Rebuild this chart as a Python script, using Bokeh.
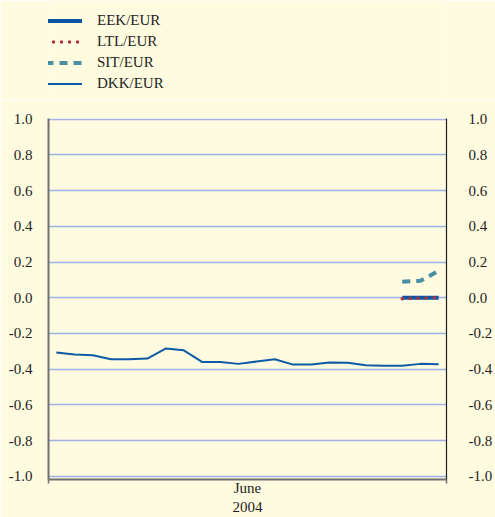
from bokeh.plotting import figure
from bokeh.layouts import column
from bokeh.models import Legend, LegendItem, LinearAxis, FixedTicker, Range1d
from bokeh.embed import file_html
from bokeh.resources import INLINE

# ---- data ----
days = [1, 2, 3, 4, 7, 8, 9, 10, 11, 14, 15, 16, 17, 18, 21, 22, 23, 24, 25, 28, 29, 30]
dkk = [-0.306, -0.318, -0.322, -0.344, -0.344, -0.340, -0.284, -0.294, -0.359, -0.359,
       -0.370, -0.357, -0.344, -0.374, -0.374, -0.362, -0.364, -0.378, -0.381, -0.381,
       -0.370, -0.372]
erm_days = [28, 29, 30]
eek = [0.0, 0.0, 0.0]
ltl = [-0.005, -0.002, 0.0]
sit = [0.09, 0.095, 0.15]
y_ticks = [-1.0, -0.8, -0.6, -0.4, -0.2, 0.0, 0.2, 0.4, 0.6, 0.8, 1.0]
y_labels = ["-1.0", "-0.8", "-0.6", "-0.4", "-0.2", "0.0", "0.2", "0.4", "0.6", "0.8", "1.0"]
x_label = "June\n2004"
series_names = ["EEK/EUR", "LTL/EUR", "SIT/EUR", "DKK/EUR"]

# ---- styling ----
BG = "#fefbe0"
FONT = "Liberation Serif"
TXT = "#231f20"
STYLES = {
    "EEK/EUR": dict(line_color="#0b55a3", line_width=4),
    "LTL/EUR": dict(line_color="#b5343a", line_width=3.5, line_dash="0 8", line_cap="round"),
    "SIT/EUR": dict(line_color="#4a8ea3", line_width=4, line_dash="8 6"),
    "DKK/EUR": dict(line_color="#0d5aa7", line_width=2),
}

x_all = [days.index(d) for d in days]
x_erm = [days.index(d) for d in erm_days]
x0, x1 = -0.43, len(days) - 1 + 0.43
series_x = {"EEK/EUR": x_erm, "LTL/EUR": x_erm, "SIT/EUR": x_erm, "DKK/EUR": x_all}
series_y = {"EEK/EUR": eek, "LTL/EUR": ltl, "SIT/EUR": sit, "DKK/EUR": dkk}

W = 495
LEG_H = 100
H = 517 - LEG_H
TOP, BOTTOM, LEFT, RIGHT = 18, 37, 48, 40

# ---- legend strip (above the chart); its range keeps the series out of view ----
lg = figure(width=W, height=LEG_H, output_backend="svg", toolbar_location=None,
            x_range=Range1d(x0, x1), y_range=Range1d(5, 6),
            min_border_left=0, min_border_right=0, min_border_top=0, min_border_bottom=0,
            background_fill_color=BG, border_fill_color=BG,
            outline_line_color=None, x_axis_location=None, y_axis_location=None)
lg.grid.visible = False
items = []
for name in series_names:
    r = lg.line(series_x[name], series_y[name], **STYLES[name])
    items.append(LegendItem(label=name, renderers=[r]))
legend_h = 4 * 21
legend_top = 10
legend = Legend(items=items, location=(-3, LEG_H - legend_top - legend_h))
legend.padding = 0
legend.margin = 0
legend.spacing = 0
legend.border_line_color = None
legend.background_fill_alpha = 0
legend.glyph_width = 37
legend.glyph_height = 21
legend.label_height = 21
legend.label_standoff = 15
legend.label_text_font = FONT
legend.label_text_font_size = "15px"
legend.label_text_color = TXT
lg.add_layout(legend, "center")

# ---- main chart ----
p = figure(width=W, height=H, output_backend="svg", toolbar_location=None,
           x_range=Range1d(x0, x1), y_range=Range1d(-1.017, 1.003),
           min_border_left=LEFT, min_border_right=RIGHT, min_border_top=TOP,
           min_border_bottom=BOTTOM, background_fill_color=BG, border_fill_color=BG,
           outline_line_color=None, y_axis_location=None, x_axis_location=None)

p.xgrid.visible = False
p.ygrid.ticker = FixedTicker(ticks=y_ticks)
p.ygrid.grid_line_color = "#9fb2e3"
p.ygrid.grid_line_width = 1.5

overrides = {t: l for t, l in zip(y_ticks, y_labels)}


def yaxis(side):
    ax = LinearAxis(ticker=FixedTicker(ticks=y_ticks), major_label_overrides=overrides)
    ax.major_tick_line_color = None
    ax.minor_tick_line_color = None
    ax.major_label_text_font = FONT
    ax.major_label_text_font_size = "15px"
    ax.major_label_text_color = TXT
    if side == "left":
        ax.axis_line_color = "#707070"
        ax.axis_line_width = 2
        ax.major_label_standoff = 10
    else:
        ax.axis_line_color = "#222222"
        ax.axis_line_width = 1.2
        ax.major_label_standoff = 16
    p.add_layout(ax, side)


yaxis("left")
yaxis("right")

xax = LinearAxis(ticker=FixedTicker(ticks=[x0, x1]), major_label_overrides={x0: "", x1: ""})
xax.axis_line_color = "#707070"
xax.axis_line_width = 2
xax.major_tick_line_color = "#707070"
xax.major_tick_line_width = 1.5
xax.major_tick_in = 0
xax.major_tick_out = 4
xax.minor_tick_line_color = None
xax.major_label_standoff = 0
xax.major_label_text_font_size = "1px"
xax.axis_label = x_label
xax.axis_label_standoff = -4
xax.axis_label_text_font = FONT
xax.axis_label_text_font_size = "15px"
xax.axis_label_text_font_style = "normal"
xax.axis_label_text_color = TXT
xax.axis_label_text_line_height = 1.2
p.add_layout(xax, "below")

for name in ["DKK/EUR", "SIT/EUR", "EEK/EUR", "LTL/EUR"]:
    p.line(series_x[name], series_y[name], **STYLES[name])

layout = column(lg, p, spacing=0)
html = file_html(layout, INLINE)
html = html.replace("<body>", '<body style="background-color:%s;">' % BG, 1)
open("out.html", "w").write(html)
